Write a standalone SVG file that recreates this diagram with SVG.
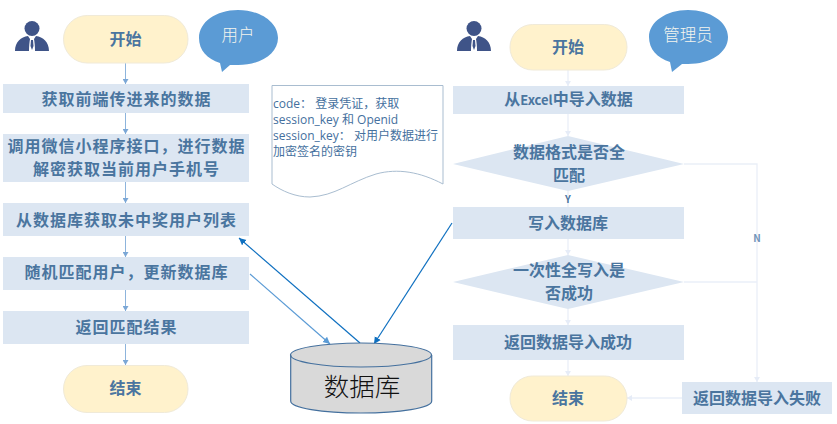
<svg xmlns="http://www.w3.org/2000/svg" width="837" height="424" viewBox="0 0 837 424">
<style>
text{font-family:"Noto Sans CJK SC","Noto Sans",sans-serif;text-anchor:middle}
.box{fill:#dce6f2}
.pill{fill:#fff2cc;stroke:#f0ead8;stroke-width:1}
.t{font-size:16px;font-weight:700;fill:#4a759f}
.w{letter-spacing:1px}
.bub{fill:#5b9bd5}
.bt{font-size:16.500px;font-weight:300;fill:#f4f4ee}
.person{fill:#3f5488}
.note{font-family:"Open Sans","Noto Sans CJK SC",sans-serif;font-size:12px;fill:#44709e;text-anchor:start}
.c1{fill:none;stroke:#8db4dc;stroke-width:1}
.c2{fill:none;stroke:#eaeff8;stroke-width:1.3}
.db{fill:none;stroke-width:1.2}
</style>
<defs>
<marker id="a1" markerWidth="6" markerHeight="6" refX="5" refY="3" orient="auto" markerUnits="userSpaceOnUse"><path d="M0 0L5 3L0 6Z" fill="#7ba7d6"/></marker>
<marker id="a2" markerWidth="6" markerHeight="6" refX="5" refY="3" orient="auto" markerUnits="userSpaceOnUse"><path d="M0 0L5 3L0 6Z" fill="#e6ecf7"/></marker>
<marker id="a3" markerWidth="8" markerHeight="8" refX="7" refY="4" orient="auto" markerUnits="userSpaceOnUse"><path d="M0 0.5L7 4L0 7.5Z" fill="#0f70c0"/></marker>
<marker id="a4" markerWidth="8" markerHeight="8" refX="7" refY="4" orient="auto" markerUnits="userSpaceOnUse"><path d="M0 0.5L7 4L0 7.5Z" fill="#5b9bd5"/></marker>
<g id="man"><circle cx="17" cy="7.5" r="7.5"/><path d="M0 30C0 21 6 16 13 15L15 18L14 30ZM34 30C34 21 28 16 21 15L19 18L20 30Z"/><path d="M15 18H19L20 30H14Z" style="fill:#fff"/><path d="M16 19H18L18.500 25L17 29L15.500 25Z"/></g>
</defs>

<g id="connectors">
<path class="c1" marker-end="url(#a1)" d="M125.500 63V84"/>
<path class="c1" marker-end="url(#a1)" d="M125.500 113V134"/>
<path class="c1" marker-end="url(#a1)" d="M125.500 182V203"/>
<path class="c1" marker-end="url(#a1)" d="M125.500 236V257"/>
<path class="c1" marker-end="url(#a1)" d="M125.500 290V311"/>
<path class="c1" marker-end="url(#a1)" d="M125.500 344V365"/>
<path class="c2" marker-end="url(#a2)" d="M568 70V86"/>
<path class="c2" marker-end="url(#a2)" d="M568 114V136"/>
<path class="c2" d="M568 191V207"/>
<path class="c2" marker-end="url(#a2)" d="M568 239V255"/>
<path class="c2" marker-end="url(#a2)" d="M568 309V325"/>
<path class="c2" marker-end="url(#a2)" d="M568 360V376"/>
<path class="c2" marker-end="url(#a2)" d="M684 164H757V382"/>
<path class="c2" d="M684 282H757"/>
<path class="c2" marker-end="url(#a2)" d="M682 398H627"/>
<path fill="none" stroke="#0f70c0" stroke-width="1.200" marker-end="url(#a3)" d="M360 343L239 238"/>
<path fill="none" stroke="#5b9bd5" stroke-width="1.200" marker-end="url(#a4)" d="M250 274L330 344"/>
<path fill="none" stroke="#0f70c0" stroke-width="1.200" marker-end="url(#a3)" d="M452 223L374 344"/>
</g>

<g id="user-icon" class="person"><use href="#man" x="15" y="21"/></g>
<g id="user-bubble"><path class="bub" d="M199 38C199 22 216 10 238 10C260 10 278 22 278 38C278 54 260 65 238 65C234 65 232 65 230 65L222 72L220 63C207 59 199 50 199 38Z"/><text class="bt" x="238" y="41">用户</text></g>
<g id="start-left"><rect class="pill" x="63.500" y="15.500" width="124.500" height="47.500" rx="23.700"/><text class="t" x="125.500" y="45">开始</text></g>
<g id="step-fetch"><rect class="box" x="3" y="84" width="246" height="29"/><text class="t w" x="126.500" y="104.500">获取前端传进来的数据</text></g>
<g id="step-decrypt"><rect class="box" x="3" y="134" width="246" height="48"/><text class="t w" x="126.500" y="152">调用微信小程序接口，进行数据</text><text class="t w" x="126.500" y="175">解密获取当前用户手机号</text></g>
<g id="step-list"><rect class="box" x="3" y="203" width="246" height="33"/><text class="t w" x="126.500" y="225.500">从数据库获取未中奖用户列表</text></g>
<g id="step-match"><rect class="box" x="3" y="257" width="246" height="33"/><text class="t w" x="126.500" y="278">随机匹配用户，更新数据库</text></g>
<g id="step-return"><rect class="box" x="3" y="311" width="246" height="33"/><text class="t w" x="126.500" y="333">返回匹配结果</text></g>
<g id="end-left"><rect class="pill" x="63.500" y="365.500" width="124.500" height="47" rx="23.500"/><text class="t" x="125.500" y="394">结束</text></g>

<g id="note"><path d="M272 85.500H443V184C420 172 398 168 376 174C350 182 335 196 310 197C295 197 282 191 272 184Z" fill="#fff" stroke="#a9bdd0" stroke-width="1"/>
<text class="note" x="273" y="108">code： 登录凭证，获取</text><text class="note" x="273" y="124">session_key 和 Openid</text><text class="note" x="273" y="140">session_key： 对用户数据进行</text><text class="note" x="273" y="156">加密签名的密钥</text></g>

<g id="database"><path d="M290.700 355V401C290.700 408 322 413 361 413C400 413 431.700 408 431.700 401V355Z" fill="#d9d9d9"/><ellipse cx="361" cy="355" rx="70.500" ry="12" fill="#d9d9d9"/><path class="db" stroke="#44709e" d="M290.700 355V401C290.700 408 322 413 361 413C400 413 431.700 408 431.700 401V355"/><ellipse class="db" stroke="#44709e" cx="361" cy="355" rx="70.500" ry="12"/><text x="362" y="396" style="font-size:25.500px;font-weight:300;fill:#111">数据库</text></g>

<g id="admin-icon" class="person"><use href="#man" x="457" y="21"/></g>
<g id="admin-bubble"><path class="bub" d="M649 37C649 22 666 10 688 10C710 10 728 22 728 37C728 53 710 64 688 64C686 64 684 64 682 64L672 72L670 62C657 58 649 49 649 37Z"/><text class="bt" x="688" y="41">管理员</text></g>
<g id="start-right"><rect class="pill" x="510" y="24.500" width="117" height="45.500" rx="22.700"/><text class="t" x="568" y="53">开始</text></g>
<g id="step-import"><rect class="box" x="453" y="86" width="231" height="28"/><text class="t" x="568.500" y="105">从<tspan style="font-size:13px">Excel</tspan>中导入数据</text></g>
<g id="check-format"><path class="box" d="M453 164L568 136L684 164L568 191Z"/><text class="t" x="569" y="158">数据格式是否全</text><text class="t" x="569" y="181">匹配</text></g>
<g id="label-y"><text x="568" y="203" style="font-size:10px;font-weight:700;fill:#4a759f">Y</text></g>
<g id="step-write"><rect class="box" x="453" y="207" width="231" height="32"/><text class="t" x="568" y="229">写入数据库</text></g>
<g id="check-write"><path class="box" d="M453 282L568 255L684 282L568 309Z"/><text class="t" x="569" y="276">一次性全写入是</text><text class="t" x="569" y="299">否成功</text></g>
<g id="step-success"><rect class="box" x="453" y="325" width="231" height="35"/><text class="t" x="568" y="348">返回数据导入成功</text></g>
<g id="end-right"><rect class="pill" x="510" y="376" width="117" height="45" rx="22.500"/><text class="t" x="568" y="404">结束</text></g>
<g id="label-n"><text x="757" y="242" style="font-size:10px;font-weight:700;fill:#6f93b8">N</text></g>
<g id="step-fail"><rect class="box" x="682" y="382" width="150" height="32"/><text class="t" x="757" y="404">返回数据导入失败</text></g>
</svg>
